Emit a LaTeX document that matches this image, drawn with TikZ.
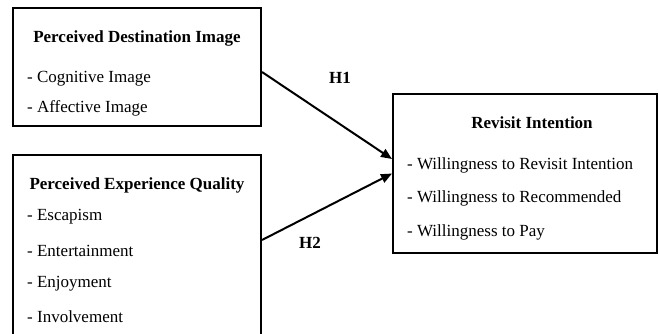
\documentclass[tikz,border=0pt]{standalone}
\usepackage{fontspec}
\setmainfont{Liberation Serif}
\usetikzlibrary{arrows.meta}
\begin{document}
\begin{tikzpicture}[x=1pt,y=-1pt,
  box/.style={draw,line width=2pt,minimum width=#1,inner sep=0pt},
  ttl/.style={font=\fontsize{17}{19}\selectfont\bfseries,inner sep=0pt},
  itm/.style={font=\fontsize{17}{19}\selectfont,anchor=west,inner sep=0pt},
  hyp/.style={font=\fontsize{17}{19}\selectfont\bfseries,inner sep=0pt},
  conn/.style={line width=2pt,-{Triangle[length=11pt,width=9pt]}}]
\clip (0,0) rectangle (659,333);
\fill[white] (0,0) rectangle (659,333);
% boxes
\node[box=248pt,minimum height=118pt] (b1) at (137,67) {};
\node[box=248pt,minimum height=190pt] (b2) at (137,250) {};
\node[box=264pt,minimum height=159pt] (b3) at (525,173.5) {};
% box 1 text
\node[ttl] (t1) at (137,38) {Perceived Destination Image};
\node[itm] (i11) at (27,79) {- Cognitive Image};
\node[itm] (i12) at (27,108) {- Affective Image};
% box 2 text
\node[ttl] (t2) at (137,185) {Perceived Experience Quality};
\node[itm] (i21) at (27,217) {- Escapism};
\node[itm] (i22) at (27,251) {- Entertainment};
\node[itm] (i23) at (27,284) {- Enjoyment};
\node[itm] (i24) at (27,317) {- Involvement};
% box 3 text
\node[ttl] (t3) at (532,123) {Revisit Intention};
\node[itm] (i31) at (407,165) {- Willingness to Revisit Intention};
\node[itm] (i32) at (407,198) {- Willingness to Recommended};
\node[itm] (i33) at (407,232) {- Willingness to Pay};
% connectors
\draw[conn] ([yshift=-5pt]b1.east) -- ([yshift=14.5pt]b3.west);
\draw[conn] ([yshift=10pt]b2.east) -- (b3.west);
% hypothesis labels
\node[hyp] (h1) at (340,78) {H1};
\node[hyp] (h2) at (310,243) {H2};
\end{tikzpicture}
\end{document}
